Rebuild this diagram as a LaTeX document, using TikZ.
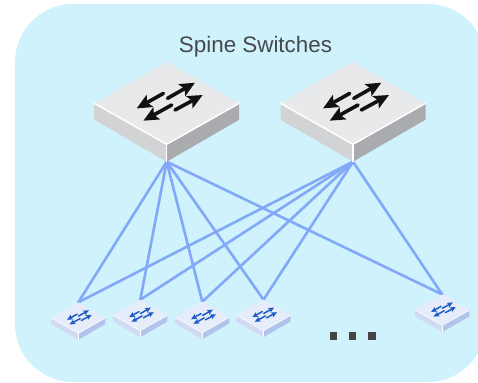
\documentclass[tikz,border=0pt]{standalone}
\usepackage{fontspec}
\setmainfont{Liberation Sans}
\usetikzlibrary{arrows.meta}
\definecolor{bgc}{HTML}{CFF2FC}
\definecolor{linkc}{HTML}{82A9F7}
\definecolor{stop}{HTML}{E8E9EA}
\definecolor{sleft}{HTML}{D2D3D5}
\definecolor{sright}{HTML}{A9ABAE}
\definecolor{sarrow}{HTML}{111111}
\definecolor{ltop}{HTML}{E6ECFA}
\definecolor{lleft}{HTML}{D2DAF3}
\definecolor{lright}{HTML}{B3C4EC}
\definecolor{larrow}{HTML}{1E5CC6}
\definecolor{dotc}{HTML}{454545}
\definecolor{textc}{HTML}{45484C}
\tikzset{
  link/.style={draw=linkc,line width=2.6pt,line cap=round},
  dotbox/.style={fill=dotc},
  caption/.style={anchor=base,text=textc,inner sep=0pt,font=\fontsize{22.4}{26}\selectfont},
}
% #1 x of top vertex, #2 y of top vertex, #3 scale, #4 prefix of colours, #5 shaft width
\newcommand{\swbox}[5]{%
  \begin{scope}[shift={(#1,#2)},x=#3pt,y=-#3pt]
    \fill[#4left] (-72.5,41.6) -- (0,82.6) -- (0,100) -- (-72.5,58) -- cycle;
    \fill[#4right] (72.5,41.6) -- (0,82.6) -- (0,100) -- (72.5,58) -- cycle;
    \fill[#4top] (0,0) -- (72.5,41.6) -- (0,82.6) -- (-72.5,41.6) -- cycle;
    \draw[white,line width=#3*1.5pt,line join=round] (-72.5,41.6) -- (0,82.6) -- (72.5,41.6);
    \draw[white,line width=#3*1.5pt] (0,82.6) -- (0,100);
    \foreach \ax/\ay/\bx/\by in {0.7/36.7/28.3/21, 8.3/48.3/36/33.3, -3.3/31.7/-30/46.7, 5/43.3/-23.3/59}{
      \draw[#4arrow,line width=#5pt,line cap=round,
        -{Stealth[length=#3*15pt,width=#3*13.5pt,inset=#3*3pt]}] (\ax,\ay) -- (\bx,\by);
    }
  \end{scope}}
\begin{document}
\begin{tikzpicture}[x=1pt,y=-1pt]
  \useasboundingbox (0,0) rectangle (478,382);
  \begin{scope}
    \clip (0,0) rectangle (478,382);
    \fill[bgc,rounded corners=58pt] (15,4) rectangle (486,382);
  \end{scope}
  \node[caption] (title) at (255.5,52.7) {Spine Switches};
  % connection points
  \coordinate (s1) at (166.7,161.7);
  \coordinate (s2) at (353,161.7);
  \coordinate (l1) at (78.3,302.3);
  \coordinate (l2) at (140.3,299.7);
  \coordinate (l3) at (202.3,301.7);
  \coordinate (l4) at (263.5,299.7);
  \coordinate (l5) at (442.3,294.5);
  \foreach \s in {s1,s2}{
    \foreach \l in {l1,l2,l3,l4,l5}{
      \draw[link] (\s) -- (\l);
    }
  }
  \swbox{166.7}{61.7}{1}{s}{3.6}
  \swbox{353}{61.7}{1}{s}{3.6}
  \swbox{78.3}{302.3}{0.375}{l}{1.5}
  \swbox{140.3}{299.7}{0.375}{l}{1.5}
  \swbox{202.3}{301.7}{0.375}{l}{1.5}
  \swbox{263.5}{299.7}{0.375}{l}{1.5}
  \swbox{442.3}{294.5}{0.375}{l}{1.5}
  \fill[dotbox] (329.7,332.3) rectangle (337.2,339.8);
  \fill[dotbox] (348.7,332.3) rectangle (356.2,339.8);
  \fill[dotbox] (368,332.3) rectangle (375.5,339.8);
\end{tikzpicture}
\end{document}
